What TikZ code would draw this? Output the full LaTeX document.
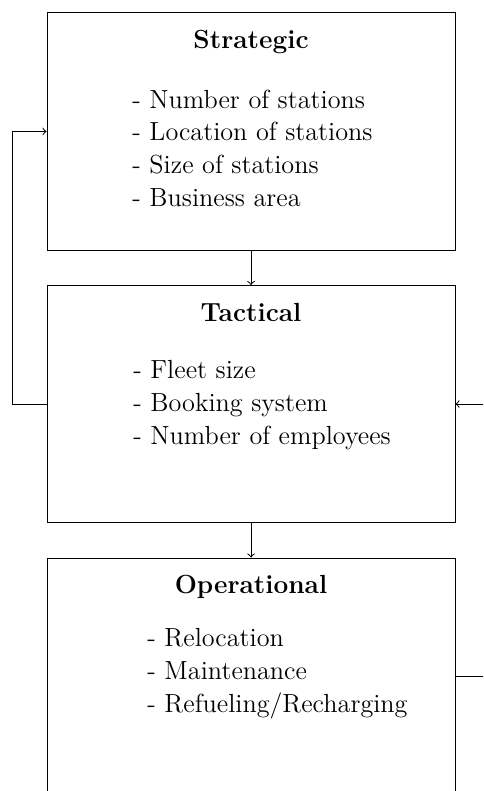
\documentclass[tikz,border=0pt]{standalone}
\usetikzlibrary{calc}
\begin{document}
\begin{tikzpicture}[x=0.5pt,y=-0.5pt,
  level/.style={draw, line width=0.5pt, minimum width=204pt, minimum height=118.5pt, inner sep=0pt},
  heading/.style={font=\fontsize{13.1}{15.8}\selectfont\bfseries, anchor=base, inner sep=0pt},
  items/.style={font=\fontsize{13.1}{16.3}\selectfont, align=left, anchor=base west, inner sep=0pt},
  link/.style={->, line width=0.5pt}]
\useasboundingbox (0,0) rectangle (483,791);
\clip (0,0) rectangle (483,791);

% the three planning levels
\node[level] (str) at (251,131.5) {};
\node[level] (tac) at (251,404) {};
\node[level] (op)  at (251,676.5) {};

% headings
\node[heading] (strT) at (251,48.5)  {Strategic};
\node[heading] (tacT) at (251,321.5) {Tactical};
\node[heading] (opT)  at (251,593.5) {Operational};

% decisions at each level (anchored at the baseline of the last line)
\node[items] (strL) at (132,206) {- Number of stations\\- Location of stations\\- Size of stations\\- Business area};
\node[items] (tacL) at (133,444) {- Fleet size\\- Booking system\\- Number of employees};
\node[items] (opL)  at (147,712) {- Relocation\\- Maintenance\\- Refueling/Recharging};

% top-down flow
\draw[link] (str.south) -- (tac.north);
\draw[link] (tac.south) -- (op.north);

% feedback loops
\coordinate (lx) at (12,0);
\coordinate (rx) at (500,0);
\draw[link] (tac.west) -- (tac.west -| lx) |- (str.west);
\draw[link] (op.east) -- (op.east -| rx) |- (tac.east);
\end{tikzpicture}
\end{document}
